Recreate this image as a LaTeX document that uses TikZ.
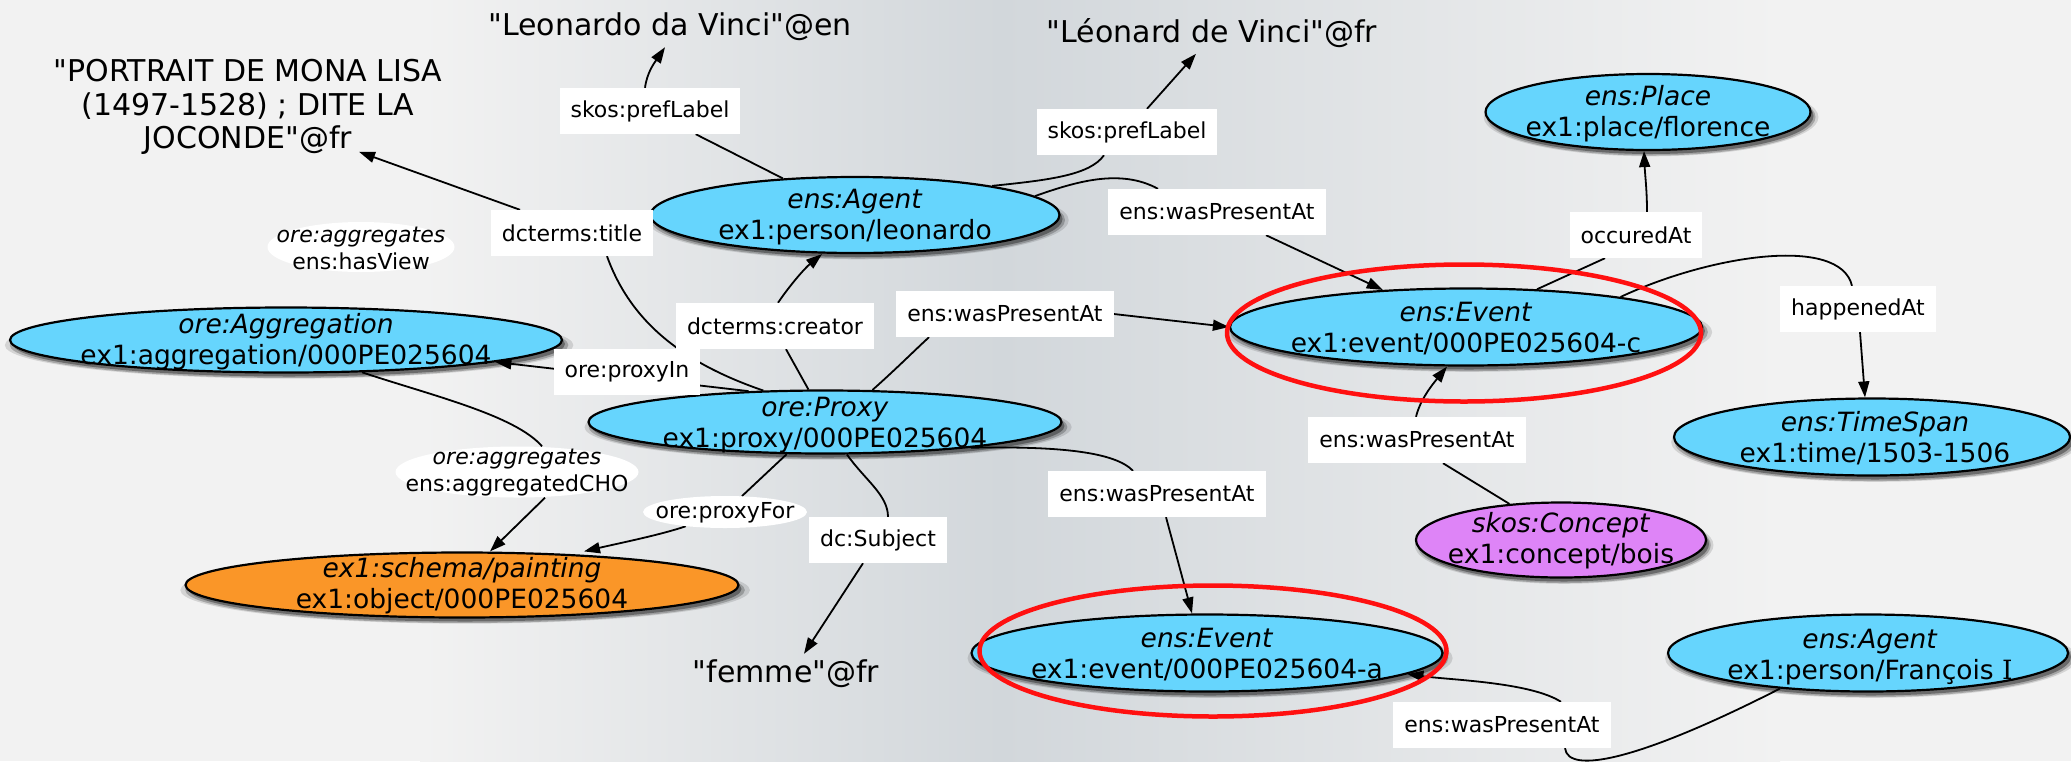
\documentclass[tikz,border=0pt]{standalone}
\usepackage{fontspec}
\setmainfont{DejaVu Sans}[ItalicFont={DejaVu Sans Oblique}, Ligatures=TeXOff]
\newfontfamily\serifI{DejaVu Serif}
\usetikzlibrary{shapes.geometric, arrows.meta, shadows}
\definecolor{nodeblue}{HTML}{66D5FD}
\definecolor{nodeorange}{HTML}{FA9628}
\definecolor{nodepurple}{HTML}{DE84F7}
\definecolor{ringred}{HTML}{FF1010}
\definecolor{bglight}{HTML}{F2F2F2}
\definecolor{bgdark}{HTML}{D2D7DB}
\pgfdeclarelayer{bg}
\pgfdeclarelayer{edges}
\pgfsetlayers{bg,edges,main}
\tikzset{
  ell/.style={ellipse, draw=black, line width=2.2pt, inner sep=0pt,
    general shadow={fill=black, opacity=0.12, shadow xshift=3pt, shadow yshift=-5pt, shadow scale=1.03},
    general shadow={fill=black, opacity=0.22, shadow xshift=3pt, shadow yshift=-5pt, shadow scale=1.012},
    general shadow={fill=black, opacity=0.35, shadow xshift=3pt, shadow yshift=-4pt}},
  bnode/.style={ell, fill=nodeblue},
  onode/.style={ell, fill=nodeorange},
  pnode/.style={ell, fill=nodepurple},
  ntext/.style={font=\fontsize{26.5}{31}\selectfont, align=center, inner sep=0pt},
  lbox/.style={fill=white, inner xsep=11pt, inner ysep=0pt, minimum height=46pt, font=\fontsize{22}{27}\selectfont},
  wlab/.style={ellipse, fill=white, inner sep=0pt},
  ltxt/.style={font=\fontsize{22}{27}\selectfont, align=center, inner sep=0pt},
  lit/.style={font=\fontsize{30}{33.5}\selectfont, align=center, inner sep=6pt},
  edge/.style={line width=1.8pt, black},
  arr/.style={edge, -{Triangle[length=16pt,width=11pt]}},
  ring/.style={ellipse, draw=ringred, line width=4.5pt, inner sep=0pt},
}
\begin{document}
\begin{tikzpicture}[x=1pt, y=-1pt]
\useasboundingbox (0,0) rectangle (2071,761);
\begin{pgfonlayer}{bg}
  \fill[bglight] (0,0) rectangle (2071,761);
  \shade[left color=bglight, right color=bgdark] (420,0) rectangle (1002,761);
  \shade[left color=bgdark, right color=bglight] (1000,0) rectangle (1780,761);
\end{pgfonlayer}

% literals
\node[lit] (titleLit) at (248,107) {"PORTRAIT DE MONA LISA\\(1497-1528) ; DITE LA\\JOCONDE"@fr};
\node[lit] (enLit) at (670,27) {"Leonardo da Vinci"@en};
\node[lit] (frLit) at (1212,33) {"Léonard de Vinci"@fr};
\node[lit] (femme) at (786,674) {"femme"@fr};

% resource nodes
\node[bnode, minimum width=409pt, minimum height=76pt] (agent) at (855,215) {};
\node[ntext] (agentT) at (855,217) {\textit{ens:Agent}\\ex1:person/leonardo};
\node[bnode, minimum width=552pt, minimum height=65pt] (aggr) at (286,340) {};
\node[ntext] (aggrT) at (286,342) {\textit{ore:Aggregation}\\ex1:aggregation/000PE025604};
\node[bnode, minimum width=473pt, minimum height=63pt] (proxy) at (825,422) {};
\node[ntext] (proxyT) at (825,425) {\textit{ore:Proxy}\\ex1:proxy/000PE025604};
\node[onode, minimum width=553pt, minimum height=65pt] (paint) at (462,585) {};
\node[ntext] (paintT) at (462,586) {\textit{ex1:schema/painting}\\ex1:object/000PE025604};
\node[bnode, minimum width=472pt, minimum height=77pt] (evc) at (1466,327) {};
\node[ntext] (evcT) at (1466,329) {\textit{ens:Event}\\ex1:event/000PE025604-c};
\node[bnode, minimum width=325pt, minimum height=76pt] (place) at (1648,112) {};
\node[ntext] (placeT) at (1648,114) {\textit{ens:Place}\\ex1:place/florence};
\node[bnode, minimum width=396pt, minimum height=77pt] (tspan) at (1872,437) {};
\node[ntext] (tspanT) at (1875,438) {\textit{ens:TimeSpan}\\ex1:time/1503-1506};
\node[pnode, minimum width=290pt, minimum height=75pt] (concept) at (1561,540) {};
\node[ntext] (conceptT) at (1561,541) {\textit{skos:Concept}\\ex1:concept/bois};
\node[bnode, minimum width=471pt, minimum height=77pt] (eva) at (1207,653) {};
\node[ntext] (evaT) at (1207,655) {\textit{ens:Event}\\ex1:event/000PE025604-a};
\node[bnode, minimum width=400pt, minimum height=77pt] (francois) at (1868,653) {};
\node[ntext] (francoisT) at (1870,657) {\textit{ens:Agent}\\ex1:person/François {\serifI I}};

% edge labels
\node[lbox] (pl1) at (650,111) {skos:prefLabel};
\node[lbox] (pl2) at (1127,132) {skos:prefLabel};
\node[lbox] (title) at (572,233) {dcterms:title};
\node[lbox] (wpaA) at (1217,212) {ens:wasPresentAt};
\node[lbox] (occ) at (1636,235) {occuredAt};
\node[lbox] (happ) at (1858,309) {happenedAt};
\node[lbox] (creator) at (775,326) {dcterms:creator};
\node[lbox] (wpaP) at (1005,314) {ens:wasPresentAt};
\node[lbox] (proxyIn) at (627,372) {ore:proxyIn};
\node[lbox] (subject) at (878,540) {dc:Subject};
\node[lbox] (wpaE) at (1157,494) {ens:wasPresentAt};
\node[lbox] (wpaC) at (1417,440) {ens:wasPresentAt};
\node[lbox] (wpaF) at (1502,725) {ens:wasPresentAt};
\node[wlab, minimum width=187pt, minimum height=50pt] (hasView) at (361,247) {};
\node[ltxt] (hasViewT) at (361,248) {\textit{ore:aggregates}\\ens:hasView};
\node[wlab, minimum width=243pt, minimum height=51pt] (cho) at (517,472) {};
\node[ltxt] (choT) at (517,473) {\textit{ore:aggregates}\\ens:aggregatedCHO};
\node[wlab, minimum width=164pt, minimum height=32pt] (proxyFor) at (725,512) {};
\node[ltxt] (proxyForT) at (725,513) {ore:proxyFor};

% red rings
\node[ring, minimum width=474pt, minimum height=137pt] (redc) at (1464,333) {};
\node[ring, minimum width=467pt, minimum height=131pt] (reda) at (1213,651) {};

\begin{pgfonlayer}{edges}
  \draw[edge] (agent) -- (pl1);
  \draw[arr] ([xshift=-5pt]pl1.north) .. controls (647,72) and (655,62) .. ([xshift=-5pt]enLit.south);
  \draw[edge] (agent.12) .. controls (1050,180) and (1090,175) .. ([xshift=-23pt]pl2.south);
  \draw[arr] ([xshift=20pt]pl2.north) -- ([xshift=-16pt]frLit.south);
  \draw[edge] (agent.6) .. controls (1075,182) and (1120,168) .. ([xshift=-59pt]wpaA.north);
  \draw[arr] ([xshift=49pt]wpaA.south) -- (evc.156);
  \draw[edge] (proxy.117) -- ([xshift=11pt]creator.south);
  \draw[arr] ([xshift=3pt]creator.north) .. controls (790,285) and (805,268) .. ([xshift=-33pt]agent.south);
  \draw[edge] (proxy.153) .. controls (680,362) and (630,320) .. ([xshift=35pt]title.south);
  \draw[arr] ([xshift=-52pt]title.north) -- ([shift={(111pt,9pt)}]titleLit.south);
  \draw[arr] (proxy.158) -- (aggr.-6);
  \draw[edge] (aggr.-23) .. controls (430,395) and (515,415) .. ([xshift=25pt]cho.north);
  \draw[arr] ([xshift=28pt]cho.south) -- ([xshift=28pt]paint.north);
  \draw[edge] (proxy.-140) -- (proxyFor);
  \draw[arr] (proxyFor.200) .. controls (660,535) and (620,543) .. ([xshift=122pt]paint.north);
  \draw[edge] (proxy.-56) .. controls (865,480) and (888,495) .. ([xshift=10pt]subject.north);
  \draw[arr] ([xshift=-15pt]subject.south) -- ([xshift=18pt]femme.north);
  \draw[edge] (proxy.34) .. controls (895,370) and (915,350) .. ([xshift=-76pt]wpaP.south);
  \draw[arr] (wpaP.east) -- (evc.west);
  \draw[edge] (proxy.-10) .. controls (1060,446) and (1115,452) .. ([xshift=-24pt]wpaE.north);
  \draw[arr] ([xshift=9pt]wpaE.south) -- ([xshift=-15pt]eva.north);
  \draw[edge] (evc.28) -- ([xshift=-31pt]occ.south);
  \draw[arr] ([xshift=11pt]occ.north) .. controls (1647,190) and (1645,175) .. ([xshift=-4pt]place.south);
  \draw[edge] (evc.11) .. controls (1710,255) and (1840,235) .. ([xshift=-6pt]happ.north);
  \draw[arr] ([xshift=2pt]happ.south) -- ([xshift=-7pt]tspan.north);
  \draw[edge] (concept.145) -- ([xshift=26pt]wpaC.south);
  \draw[arr] ([xshift=-1pt]wpaC.north) .. controls (1420,400) and (1432,385) .. ([xshift=-19pt]evc.south);
  \draw[edge] (francois.-158) .. controls (1640,760) and (1568,775) .. ([xshift=63pt]wpaF.south);
  \draw[arr] ([xshift=59pt]wpaF.north) .. controls (1530,682) and (1450,680) .. (eva.-6);
\end{pgfonlayer}
\end{tikzpicture}
\end{document}
